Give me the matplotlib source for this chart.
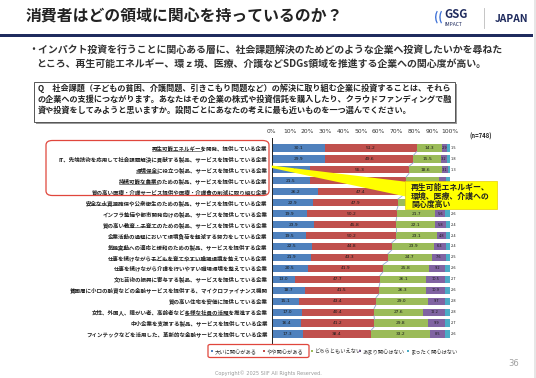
import matplotlib
matplotlib.use("Agg")
import matplotlib.pyplot as plt
from matplotlib.patches import Rectangle, FancyBboxPatch, Polygon
import numpy as np

plt.rcParams['font.family'] = ['Noto Sans CJK JP', 'DejaVu Sans']

categories = [
    "再生可能エネルギーを開発、提供している企業",
    "IT、先端技術を応用して社会課題解決に貢献する製品、サービスを提供している企業",
    "環境保全に役立つ製品、サービスを提供している企業",
    "持続可能な農業のための製品、サービスを提供している企業",
    "質の高い医療・介護サービス提供や医療・介護費の削減に取り組む企業",
    "安全な水資源確保や公衆衛生のための製品、サービスを提供している企業",
    "インフラ整備や都市開発向けの製品、サービスを提供している企業",
    "質の高い教育・子育てのための製品、サービスを提供している企業",
    "企業活動の過程において環境負荷を軽減する努力をしている企業",
    "気候変動への適応と緩和のための製品、サービスを提供する企業",
    "仕事を続けながら子どもを育てやすい職場環境を整えている企業",
    "仕事を続けながら介護を行いやすい職場環境を整えている企業",
    "文化芸術の振興に寄与する製品、サービスを提供している企業",
    "貧困層に小口の融資などの金融サービスを提供する、マイクロファイナンス機関",
    "質の高い住宅を安価に提供している企業",
    "女性、外国人、障がい者、高齢者など多様な社員の活躍を推進する企業",
    "中小企業を支援する製品、サービスを提供している企業",
    "フィンテックなどを活用した、革新的な金融サービスを提供している企業",
]
underlined = {0: "再生可能エネルギー", 2: "環境保全", 3: "持続可能な農業", 4: "医療・介護",
              5: "安全な水資源", 7: "教育・子育て", 9: "気候変動",
              10: "子どもを育てやすい職場環境", 15: "多様な社員の活躍"}
series_names = ["大いに関心がある", "やや関心がある", "どちらともいえない", "あまり関心はない", "まったく関心はない"]
very = [30.1, 29.9, 21.7, 21.5, 26.2, 22.9, 19.9, 23.9, 19.5, 22.5, 21.9, 20.5, 13.0, 18.7, 15.1, 17.0, 16.4, 17.3]
some = [51.2, 49.6, 55.3, 53.8, 47.4, 47.9, 50.2, 45.8, 50.2, 44.8, 43.3, 41.9, 47.7, 41.5, 43.4, 40.4, 41.2, 38.4]
neutral = [14.3, 15.5, 18.6, 18.7, 20.1, 21.5, 21.7, 22.1, 23.1, 23.9, 24.7, 25.8, 26.1, 26.3, 29.0, 27.6, 29.8, 33.2]
little = [2.9, 3.2, 3.1, 4.0, 4.3, 5.3, 5.6, 5.8, 4.8, 6.4, 7.6, 9.2, 10.5, 10.9, 9.7, 12.2, 9.9, 8.5]
none_ = [1.5, 1.8, 1.3, 2.0, 2.0, 2.4, 2.6, 2.4, 2.4, 2.4, 2.5, 2.6, 2.7, 2.6, 2.8, 2.8, 2.7, 2.6]
xticks = [0, 10, 20, 30, 40, 50, 60, 70, 80, 90, 100]
xtick_labels = [f"{t}%" for t in xticks]
colors = ["#4F81BD", "#C0504D", "#9BBB59", "#8064A2", "#4BACC6"]

W, H = 536, 378
fig = plt.figure(figsize=(W / 100, H / 100), dpi=100)
fig.patch.set_facecolor("white")

def fx(x):
    return x / W

def fy(y):
    return 1 - y / H

# ---- header ----
fig.text(fx(26), fy(17), "消費者はどの領域に関心を持っているのか？", fontsize=11.4,
         fontweight="bold", color="#222222", ha="left", va="center")
fig.add_artist(Rectangle((0, fy(36.8)), fx(533), 2.6 / H, transform=fig.transFigure,
                         color="#1F2B5E", lw=0))
fig.add_artist(Rectangle((fx(533.5), 0), 2.5 / W, 1, transform=fig.transFigure,
                         color="#E6E6E6", lw=0))
# logo
fig.text(fx(434), fy(17), "((", fontsize=8, fontweight="bold", color="#3B6FD6", ha="left", va="center")
fig.text(fx(444), fy(14.5), "GSG", fontsize=8.2, fontweight="bold", color="#1F2B5E", ha="left", va="center")
fig.text(fx(444.5), fy(24.5), "IMPACT", fontsize=3.6, color="#1F2B5E", ha="left", va="center")
fig.add_artist(plt.Line2D([fx(484), fx(484)], [fy(8), fy(28)], transform=fig.transFigure,
                          color="#BBBBBB", lw=0.6))
fig.text(fx(495), fy(18.5), "JAPAN", fontsize=7.4, fontweight="bold", color="#1F2B5E", ha="left", va="center")

# bullet text
fig.text(fx(28), fy(50), "・インパクト投資を行うことに関心ある層に、社会課題解決のためどのような企業へ投資したいかを尋ねた",
         fontsize=7.15, fontweight="bold", color="#333333", ha="left", va="center")
fig.text(fx(36), fy(63.5), "ところ、再生可能エネルギー、環ｚ境、医療、介護などSDGs領域を推進する企業への関心度が高い。",
         fontsize=7.15, fontweight="bold", color="#333333", ha="left", va="center")

# question box
fig.add_artist(Rectangle((fx(36), fy(123.5)), (455 - 34) / W, (121.5 - 82) / H,
                         transform=fig.transFigure, facecolor="#9A9A9A", edgecolor="none", lw=0))
fig.add_artist(Rectangle((fx(34), fy(121.5)), (455 - 34) / W, (121.5 - 82) / H,
                         transform=fig.transFigure, facecolor="white", edgecolor="#555555", lw=0.7))
qlines = [
    "Q　社会課題（子どもの貧困、介護問題、引きこもり問題など）の解決に取り組む企業に投資することは、それら",
    "の企業への支援につながります。あなたはその企業の株式や投資信託を購入したり、クラウドファンディングで融",
    "資や投資をしてみようと思いますか。設問ごとにあなたの考えに最も近いものを一つ選んでください。",
]
for i, line in enumerate(qlines):
    fig.text(fx(38), fy(88 + 11.2 * i), line, fontsize=5.85, fontweight="bold",
             color="#222222", ha="left", va="center")

# ---- chart ----
n = len(categories)
row_top, row_bot = 148.0, 334.0
sp = (row_bot - row_top) / (n - 1)
ax_top = row_top - sp / 2
ax_bot = row_bot + sp / 2
x0, x100 = 271.7, 450.0
ax = fig.add_axes([fx(x0), fy(ax_bot), (x100 - x0) / W, (ax_bot - ax_top) / H])
ax.set_xlim(0, 100)
ax.set_ylim(n - 0.5, -0.5)
ax.patch.set_alpha(0)

# callout box in pixels (hides labels beneath it)
cb_l, cb_r, cb_t, cb_b = 405, 497, 181, 209

data = [very, some, neutral, little, none_]
y = np.arange(n)
left = np.zeros(n)
for k, (vals, c) in enumerate(zip(data, colors)):
    vals = np.array(vals)
    ax.barh(y, vals, left=left, height=0.66, color=c, edgecolor="none", zorder=2)
    for i in range(n):
        if k < 4:
            xv = left[i] + vals[i] / 2
            ha = "center"
        else:
            xv = 100.4
            ha = "left"
        px = x0 + xv * (x100 - x0) / 100
        py = row_top + i * sp
        if cb_l - 4 < px < cb_r and cb_t - 4 < py < cb_b + 4:
            continue
        fs = 3.2 if k < 3 else 2.5
        ax.text(xv, y[i], f"{vals[i]:.1f}", fontsize=fs, ha=ha, va="center",
                color="#1a1a1a", zorder=5, family=["DejaVu Sans"], clip_on=False)
    left = left + vals

# series lines (staircase between red and green)
cum2 = np.array(very) + np.array(some)
for i in range(n - 1):
    ax.plot([cum2[i], cum2[i + 1]], [i + 0.33, i + 1 - 0.33], color="#8FA9D6", lw=0.6, zorder=3)

ax.set_xticks(xticks)
ax.set_xticklabels(xtick_labels, fontsize=4.3, color="#333333", family=["DejaVu Sans"])
ax.xaxis.tick_top()
ax.tick_params(axis="x", length=0, pad=6.5)
ax.set_yticks(y)
ax.set_yticklabels(categories, fontsize=3.95, fontweight="bold", color="#222222")
ax.tick_params(axis="y", length=0, pad=3)
for s in ["top", "right", "bottom"]:
    ax.spines[s].set_visible(False)
ax.spines["left"].set_color("#222222")
ax.spines["left"].set_linewidth(0.7)
ax.spines["left"].set_bounds(-0.9, n - 0.2)

# underline key words in category labels
fig.canvas.draw()
renderer = fig.canvas.get_renderer()
for lab in ax.get_yticklabels():
    txt = lab.get_text()
    idx = categories.index(txt)
    if idx not in underlined:
        continue
    word = underlined[idx]
    pos = txt.find(word)
    suffix = txt[pos + len(word):]
    prop = lab.get_fontproperties()
    w_suf = renderer.get_text_width_height_descent(suffix, prop, ismath=False)[0] if suffix else 0
    w_all = renderer.get_text_width_height_descent(word + suffix, prop, ismath=False)[0]
    bb = lab.get_window_extent(renderer)
    xr = bb.x1
    yl = bb.y0 + 0.6
    fig.add_artist(plt.Line2D([(xr - w_all) / fig.bbox.width, (xr - w_suf) / fig.bbox.width],
                              [yl / fig.bbox.height, yl / fig.bbox.height],
                              transform=fig.transFigure, color="#222222", lw=0.4))

fig.text(fx(470), fy(136), "(n=748)", fontsize=4.3, fontweight="bold", color="#222222",
         ha="left", va="center")

# red rounded rectangle around first five labels
fig.add_artist(FancyBboxPatch((fx(46), fy(195.5)), (269 - 46) / W, (195.5 - 140.5) / H,
                              boxstyle="round,pad=0,rounding_size=0.012",
                              transform=fig.transFigure, facecolor="none",
                              edgecolor="#E0463C", lw=0.9, zorder=10))

# yellow callout
fig.add_artist(Polygon([[fx(271.5), fy(165.5)], [fx(272), fy(168)], [fx(408), fy(197)], [fx(408), fy(182)]],
                       closed=True, transform=fig.transFigure, facecolor="#FFFF00", edgecolor="none", zorder=11))
fig.add_artist(Rectangle((fx(cb_l), fy(cb_b)), (cb_r - cb_l) / W, (cb_b - cb_t) / H, transform=fig.transFigure,
                         facecolor="#FFFF00", edgecolor="#E8D000", lw=0.5, zorder=12))
for i, line in enumerate(["再生可能エネルギー、", "環境、医療、介護への", "関心度高い"]):
    fig.text(fx(411), fy(187.5 + 8.6 * i), line, fontsize=5.7, fontweight="bold", color="#222222",
             ha="left", va="center", zorder=13)

# legend
leg_x = [211, 263, 311, 359, 407]
for name, c, lx in zip(series_names, colors, leg_x):
    fig.add_artist(Rectangle((fx(lx), fy(352.3)), 2.3 / W, 2.3 / H, transform=fig.transFigure,
                             facecolor=c, edgecolor="none"))
    fig.text(fx(lx + 3.5), fy(351.2), name, fontsize=3.8, color="#333333", ha="left", va="center")
fig.add_artist(FancyBboxPatch((fx(208), fy(357.5)), (309 - 208) / W, (357.5 - 344.5) / H,
                              boxstyle="round,pad=0,rounding_size=0.004",
                              transform=fig.transFigure, facecolor="none", edgecolor="#E0463C", lw=0.9))

# footer
fig.text(fx(514), fy(363.5), "36", fontsize=6, color="#A0A0A0", ha="center", va="center",
         family=["DejaVu Sans"])
fig.text(fx(268), fy(373), "Copyright© 2025 SIIF All Rights Reserved.", fontsize=3.6, color="#999999",
         ha="center", va="center", family=["DejaVu Sans"])

fig.savefig("out.png", dpi=100)
